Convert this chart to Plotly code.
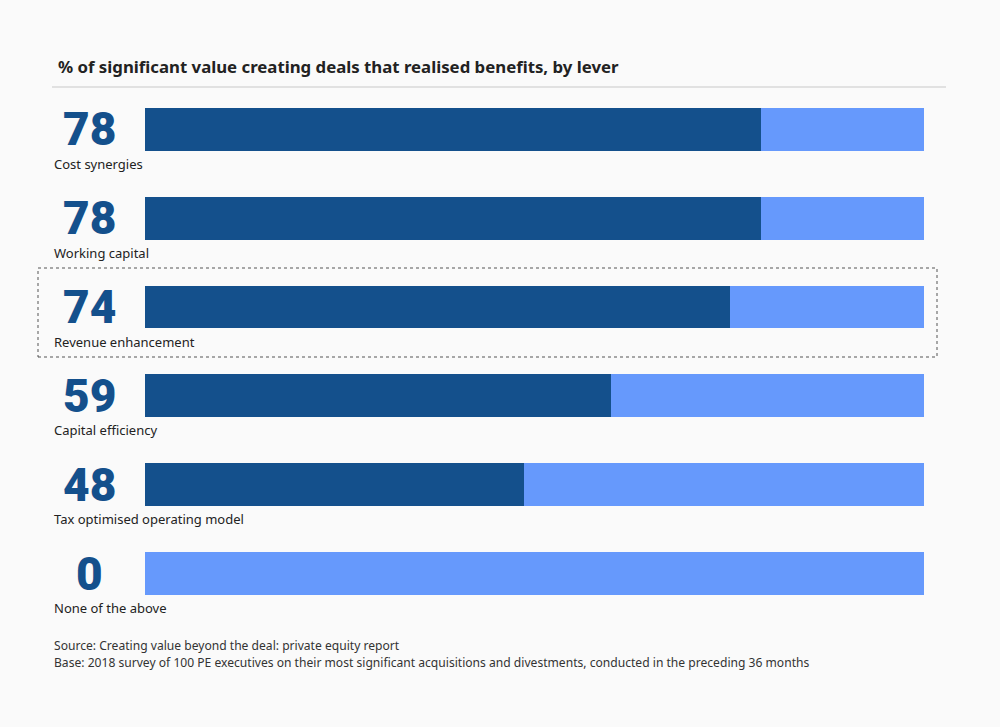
import plotly.graph_objects as go

categories = ["Cost synergies", "Working capital", "Revenue enhancement",
              "Capital efficiency", "Tax optimised operating model", "None of the above"]
values = [78, 78, 74, 59, 48, 0]
track = [100] * len(values)

title = "% of significant value creating deals that realised benefits, by lever"
source = "Source: Creating value beyond the deal: private equity report"
base = "Base: 2018 survey of 100 PE executives on their most significant acquisitions and divestments, conducted in the preceding 36 months"

DARK = "#14508c"
LIGHT = "#6699fc"
BG = "#fafafa"
FONT = "Noto Sans"

fig = go.Figure()
fig.add_trace(go.Bar(y=categories, x=track, orientation="h", marker=dict(color=LIGHT, line=dict(width=0)),
                     width=0.484, hoverinfo="skip"))
fig.add_trace(go.Bar(y=categories, x=values, orientation="h", marker=dict(color=DARK, line=dict(width=0)),
                     width=0.484, hoverinfo="skip"))

ann = []
for c, v in zip(categories, values):
    ann.append(dict(x=0.089, xref="paper", y=c, yref="y", text=str(v), showarrow=False,
                    xanchor="center", yanchor="middle", yshift=0,
                    font=dict(family="Roboto", size=46, color=DARK, weight=900)))
    ann.append(dict(x=0.052, xref="paper", y=c, yref="y", text=c, showarrow=False,
                    xanchor="left", yanchor="middle", yshift=-34.5,
                    font=dict(family=FONT, size=13, color="#222222")))

ann.append(dict(x=0.056, xref="paper", y=1 - 66 / 727, yref="paper", text="<b>" + title + "</b>",
                showarrow=False, xanchor="left", yanchor="middle",
                font=dict(family=FONT, size=16.8, color="#222222")))
ann.append(dict(x=0.052, xref="paper", y=1 - 645 / 727, yref="paper", text=source,
                showarrow=False, xanchor="left", yanchor="middle",
                font=dict(family=FONT, size=12.1, color="#333333")))
ann.append(dict(x=0.052, xref="paper", y=1 - 662 / 727, yref="paper", text=base,
                showarrow=False, xanchor="left", yanchor="middle",
                font=dict(family=FONT, size=12.1, color="#333333")))

shapes = [
    dict(type="line", xref="paper", yref="paper", x0=0.052, x1=0.946,
         y0=1 - 87 / 727, y1=1 - 87 / 727, line=dict(color="#c8c8c8", width=1)),
    dict(type="rect", xref="paper", yref="paper", x0=0.038, x1=0.937,
         y0=1 - 357 / 727, y1=1 - 268 / 727, line=dict(color="#555555", width=1, dash="dot")),
]

fig.update_layout(
    width=1000, height=727, margin=dict(l=0, r=0, t=0, b=0),
    paper_bgcolor=BG, plot_bgcolor=BG, barmode="overlay", bargap=0, showlegend=False,
    xaxis=dict(domain=[0.145, 0.924], range=[0, 98.6], visible=False, fixedrange=True),
    yaxis=dict(domain=[1 - 617.9 / 727, 1 - 85.1 / 727], range=[5.5, -0.5], visible=False,
               type="category", fixedrange=True),
    annotations=ann, shapes=shapes,
)
fig.write_html("out.html", config={"displayModeBar": False},
               post_script="document.body.style.margin='0';document.body.style.background='#fafafa';document.body.style.overflow='hidden';")
